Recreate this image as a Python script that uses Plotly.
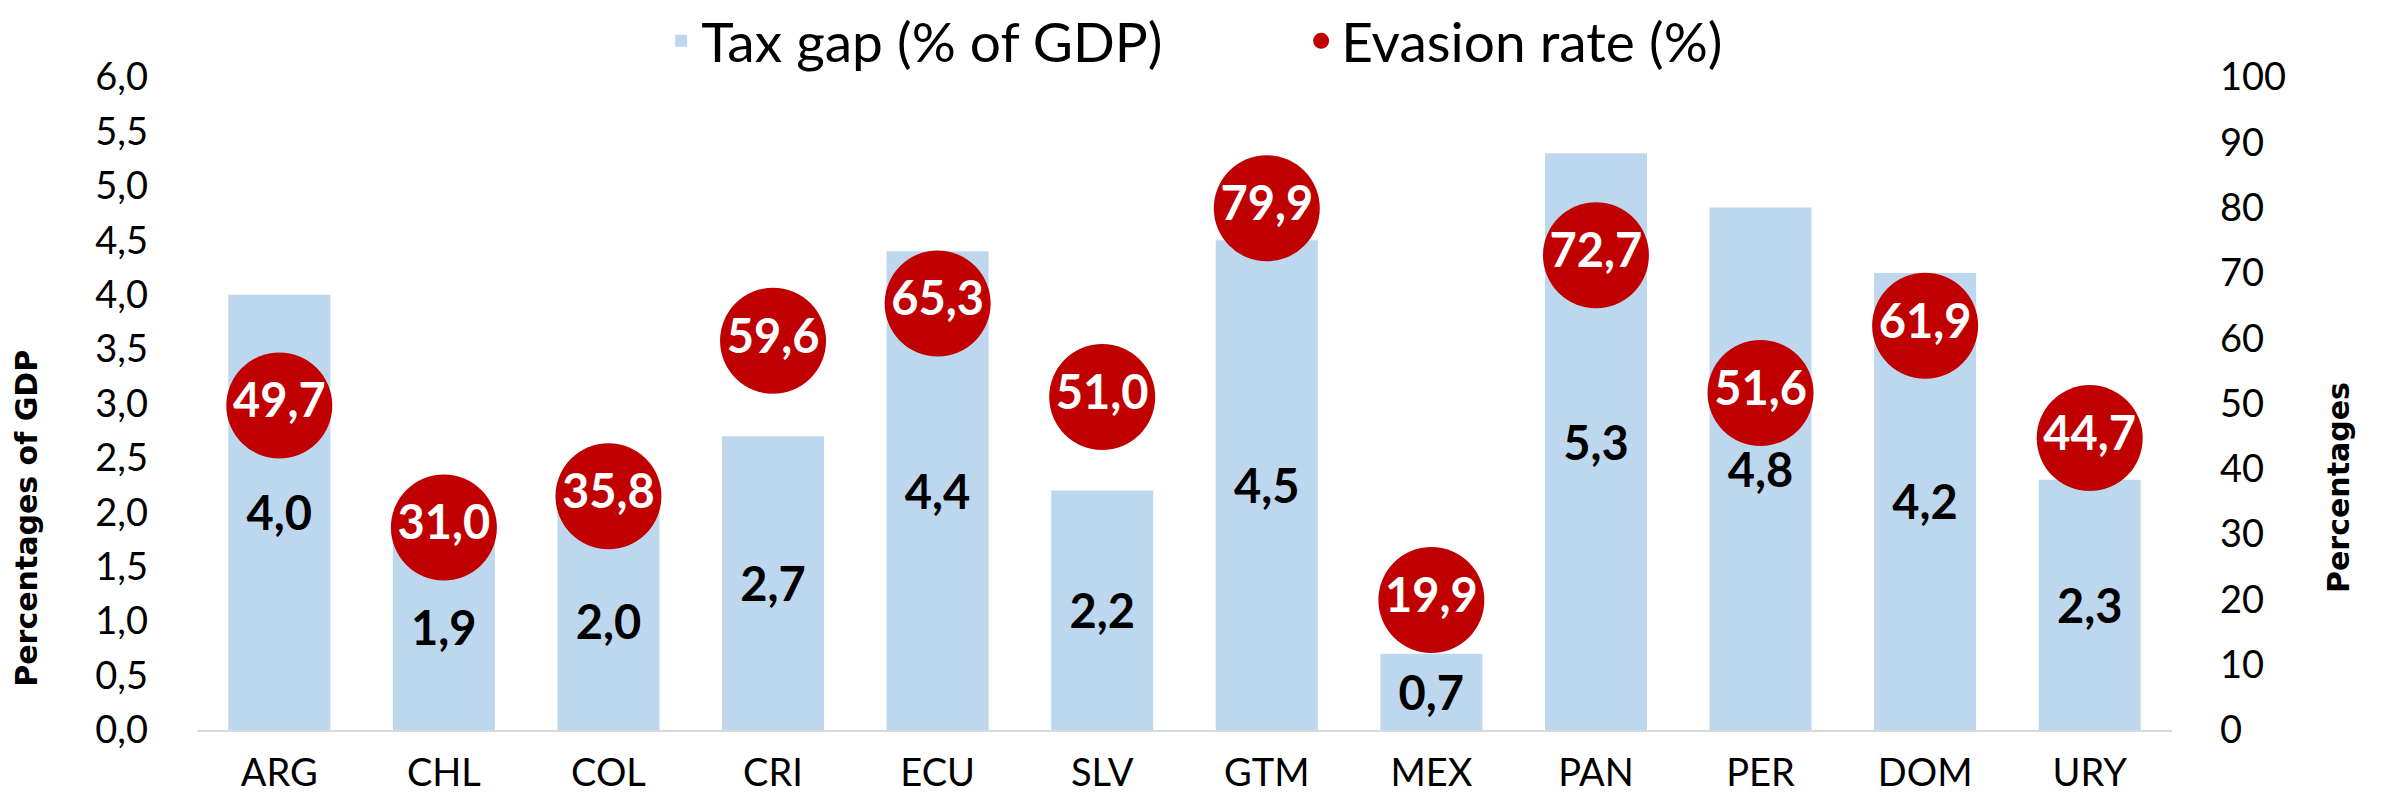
import plotly.graph_objects as go

countries = ["ARG", "CHL", "COL", "CRI", "ECU", "SLV", "GTM", "MEX", "PAN", "PER", "DOM", "URY"]
tax_gap = [4.0, 1.9, 2.0, 2.7, 4.4, 2.2, 4.5, 0.7, 5.3, 4.8, 4.2, 2.3]
evasion_rate = [49.7, 31.0, 35.8, 59.6, 65.3, 51.0, 79.9, 19.9, 72.7, 51.6, 61.9, 44.7]

left_ticks = [0.0, 0.5, 1.0, 1.5, 2.0, 2.5, 3.0, 3.5, 4.0, 4.5, 5.0, 5.5, 6.0]
right_ticks = [0, 10, 20, 30, 40, 50, 60, 70, 80, 90, 100]

BAR_COLOR = "#BDD7EE"
DOT_COLOR = "#C00000"
FONT = "Lato"

fig = go.Figure()
fig.add_trace(go.Bar(
    x=countries, y=tax_gap, name="Tax gap (% of GDP)",
    marker=dict(color=BAR_COLOR, line=dict(width=0)),
    texttemplate="%{y:.1f}", textposition="inside", insidetextanchor="middle",
    constraintext="none",
    textfont=dict(family=FONT, size=47, color="black", weight="bold"),
    yaxis="y", hoverinfo="skip",
))
fig.add_trace(go.Scatter(
    x=countries, y=evasion_rate, name="Evasion rate (%)",
    mode="markers+text",
    marker=dict(color=DOT_COLOR, size=106, line=dict(width=0)),
    texttemplate="%{y:.1f}", textposition="middle center",
    textfont=dict(family=FONT, size=47, color="white", weight="bold"),
    yaxis="y2", cliponaxis=False, hoverinfo="skip",
))

fig.update_layout(
    width=2384, height=802,
    margin=dict(l=189, r=220, t=69, b=80, autoexpand=False),
    paper_bgcolor="white", plot_bgcolor="white",
    separators=", ",
    bargap=0.38,
    font=dict(family=FONT, color="black"),
    showlegend=True,
    legend=dict(
        orientation="h", x=0.235, xanchor="left", y=1.055, yanchor="middle",
        font=dict(family=FONT, size=55, color="black"),
        bgcolor="rgba(0,0,0,0)", itemwidth=30, entrywidth=595,
    ),
    xaxis=dict(
        range=[-0.5, len(countries) - 0.5],
        showline=True, linecolor="#D9D9D9", linewidth=2,
        showgrid=False, ticks="", zeroline=False,
        tickfont=dict(family=FONT, size=38, color="black"),
        ticklabelstandoff=8,
    ),
    yaxis=dict(
        range=[0, 6], tickvals=left_ticks, tickformat=".1f",
        showgrid=False, zeroline=False, showline=False, ticks="",
        tickfont=dict(family=FONT, size=38, color="black"),
        ticklabelstandoff=48,
    ),
    yaxis2=dict(
        range=[0, 100], tickvals=right_ticks, overlaying="y", side="right",
        showgrid=False, zeroline=False, showline=False, ticks="",
        tickfont=dict(family=FONT, size=38, color="black"),
        ticklabelstandoff=47,
    ),
    annotations=[
        dict(text="Percentages of GDP", textangle=-90, xref="paper", yref="paper",
             x=-0.0861, y=0.325, xanchor="center", yanchor="middle", showarrow=False,
             font=dict(family="DejaVu Sans", size=30, color="black", weight="bold")),
        dict(text="Percentages", textangle=-90, xref="paper", yref="paper",
             x=1.084, y=0.372, xanchor="center", yanchor="middle", showarrow=False,
             font=dict(family="DejaVu Sans", size=30, color="black", weight="bold")),
    ],
)

fig.write_html("out.html")
